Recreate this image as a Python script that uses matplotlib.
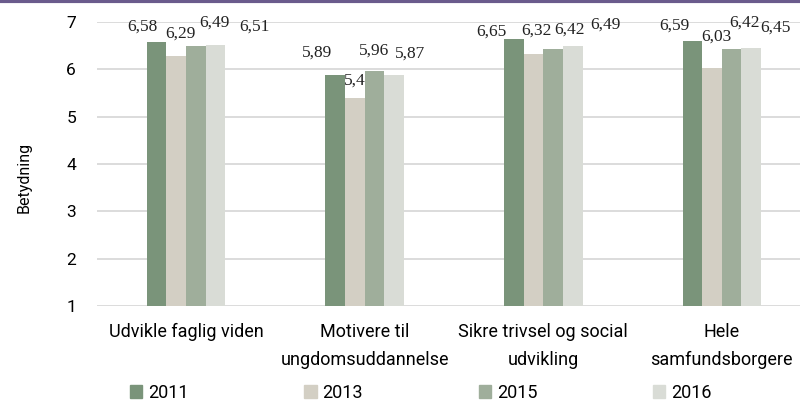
import matplotlib.pyplot as plt
import numpy as np
from matplotlib.lines import Line2D
from matplotlib.patches import Patch

categories = ["Udvikle faglig viden", "Motivere til\nungdomsuddannelse",
              "Sikre trivsel og social\nudvikling", "Hele\nsamfundsborgere"]
years = ["2011", "2013", "2015", "2016"]
v2011 = [6.58, 5.89, 6.65, 6.59]
v2013 = [6.29, 5.40, 6.32, 6.03]
v2015 = [6.49, 5.96, 6.42, 6.42]
v2016 = [6.51, 5.87, 6.49, 6.45]
labels2011 = ["6,58", "5,89", "6,65", "6,59"]
labels2013 = ["6,29", "5,4", "6,32", "6,03"]
labels2015 = ["6,49", "5,96", "6,42", "6,42"]
labels2016 = ["6,51", "5,87", "6,49", "6,45"]

series = [v2011, v2013, v2015, v2016]
series_labels = [labels2011, labels2013, labels2015, labels2016]
colors = ["#7a947a", "#d3cfc4", "#9fae9b", "#d9dcd6"]
# label offsets in pixels from top of each bar (per series, per group), like the Excel original
label_dx = [[-14, -18, -22, -18],
            [4, 0, 3, 4],
            [19, 0, 16, 13],
            [39, 16, 33, 24]]
label_dy = [[15, 22, 7, 16],
            [22, 17, 24, 31],
            [23, 21, 20, 27],
            [19, 22, 21, 20]]

plt.rcParams['font.family'] = ['Roboto', 'DejaVu Sans']

fig = plt.figure(figsize=(8, 4.05), dpi=100)
ax = fig.add_axes([0.121, 0.2444, 0.879, 0.7013])

x = np.arange(len(categories))
w = 0.11
for i, vals in enumerate(series):
    pos = x + (i - 1.5) * w
    ax.bar(pos, np.array(vals) - 1, w, bottom=1, color=colors[i], zorder=3)
    for j, (p, v, lab) in enumerate(zip(pos, vals, series_labels[i])):
        ax.annotate(lab, (p, v), xytext=(label_dx[i][j], label_dy[i][j]),
                    textcoords="offset pixels", ha="center", va="center",
                    fontsize=12.5, family="Liberation Serif", color="#222222")

ax.set_ylim(1, 7)
ax.set_xlim(-0.5, 3.438)
ax.set_yticks([1, 2, 3, 4, 5, 6, 7])
ax.yaxis.grid(True, color="#d9d9d9", linewidth=1.3, zorder=0)
ax.set_axisbelow(True)
for s in ax.spines.values():
    s.set_visible(False)
ax.tick_params(length=0)
ax.tick_params(axis="y", labelsize=12.5, pad=15)
ax.set_xticks(x)
ax.set_xticklabels(categories, fontsize=13, linespacing=1.75)
ax.tick_params(axis="x", pad=12)
ax.set_ylabel("Betydning", fontsize=11.5)
ax.yaxis.set_label_coords(-0.092, 0.454)

handles = [Patch(color=c) for c in colors]
fig.legend(handles, years, loc="center", bbox_to_anchor=(0.526, 0.03), ncol=4,
           frameon=False, fontsize=13, handlelength=0.67, handleheight=0.67,
           handletextpad=0.33, columnspacing=6.4, borderpad=0)

fig.add_artist(Line2D([0, 1], [0.997, 0.997], color="#6a5b8c", linewidth=3,
                      transform=fig.transFigure))

fig.savefig("out.png", dpi=100)
